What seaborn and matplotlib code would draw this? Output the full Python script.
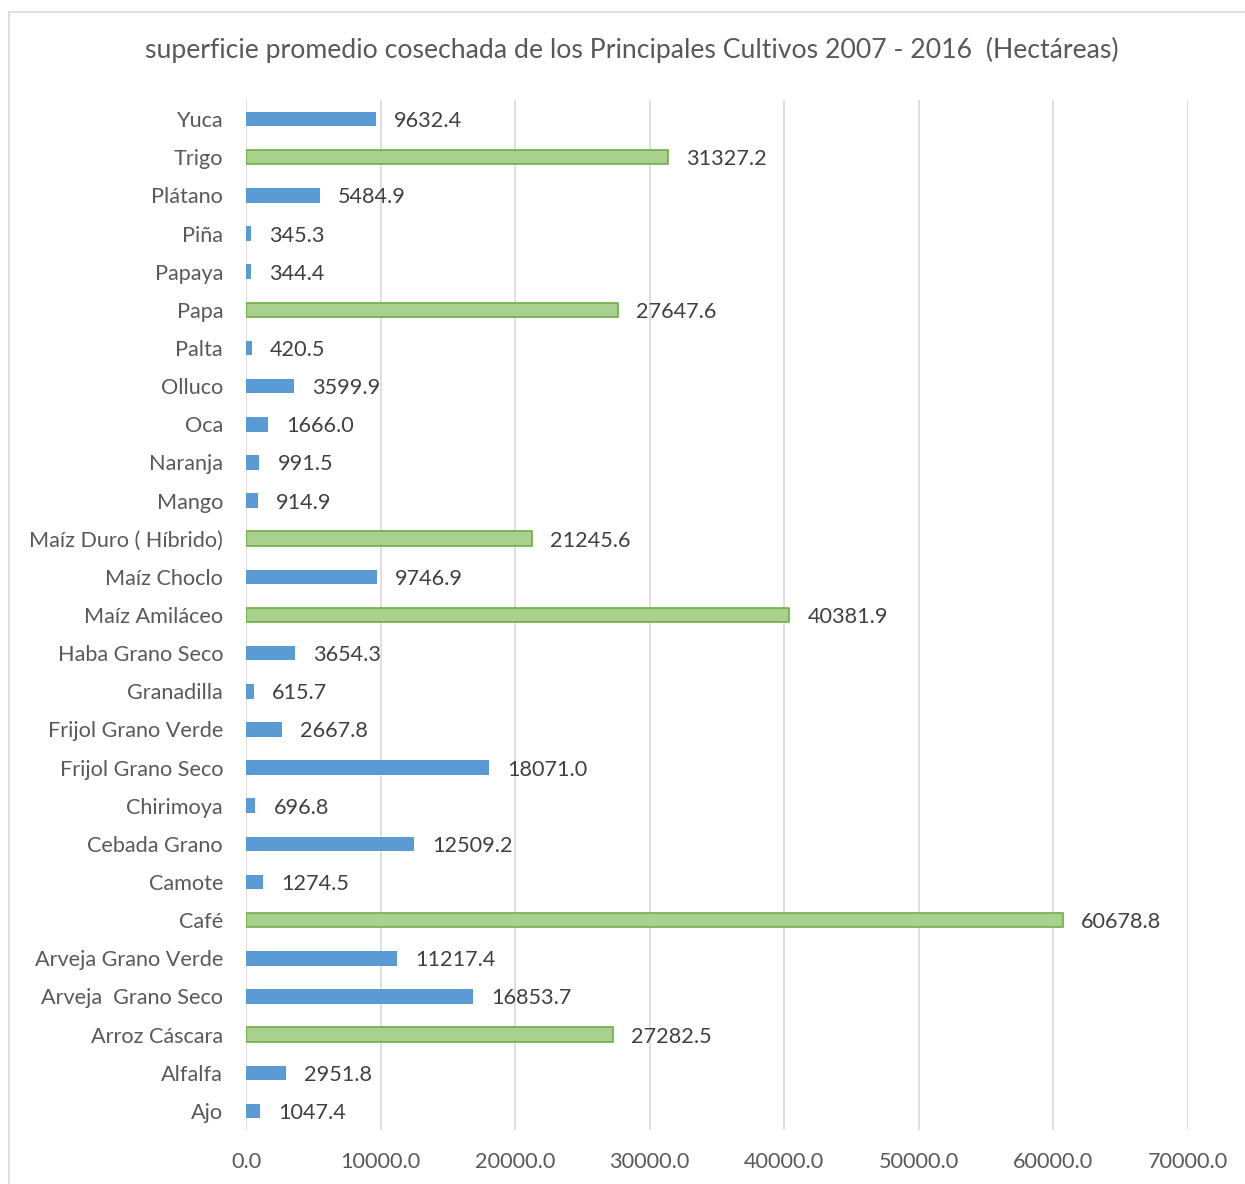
import matplotlib
matplotlib.use("Agg")
import matplotlib.pyplot as plt
import seaborn as sns
import pandas as pd
from matplotlib.lines import Line2D

cultivos = ["Yuca", "Trigo", "Plátano", "Piña", "Papaya", "Papa", "Palta", "Olluco", "Oca",
            "Naranja", "Mango", "Maíz Duro ( Híbrido)", "Maíz Choclo", "Maíz Amiláceo",
            "Haba Grano Seco", "Granadilla", "Frijol Grano Verde", "Frijol Grano Seco",
            "Chirimoya", "Cebada Grano", "Camote", "Café", "Arveja Grano Verde",
            "Arveja  Grano Seco", "Arroz Cáscara", "Alfalfa", "Ajo"]
valores = [9632.4, 31327.2, 5484.9, 345.3, 344.4, 27647.6, 420.5, 3599.9, 1666.0,
           991.5, 914.9, 21245.6, 9746.9, 40381.9, 3654.3, 615.7, 2667.8, 18071.0,
           696.8, 12509.2, 1274.5, 60678.8, 11217.4, 16853.7, 27282.5, 2951.8, 1047.4]
verdes = ["Trigo", "Papa", "Maíz Duro ( Híbrido)", "Maíz Amiláceo", "Café", "Arroz Cáscara"]
grupos = ["verde" if c in verdes else "azul" for c in cultivos]
xticks = [0, 10000, 20000, 30000, 40000, 50000, 60000, 70000]

df = pd.DataFrame({"cultivo": cultivos, "valor": valores, "grupo": grupos})

sns.set_theme(style="white")
plt.rcParams['font.family'] = ['Lato', 'DejaVu Sans']
txt = "#595959"

fig = plt.figure(figsize=(12.45, 11.84), dpi=100)
ax = fig.add_axes([246/1245, 1-1130/1184, (1188-246)/1245, (1130-100)/1184])

sns.barplot(data=df, y="cultivo", x="valor", hue="grupo", hue_order=["azul", "verde"],
            palette={"azul": "#5B9BD5", "verde": "#A9D18E"}, dodge=False, width=0.38,
            legend=False, ax=ax, order=cultivos, saturation=1)

for cont, hue in zip(ax.containers, ["azul", "verde"]):
    for p in cont.patches:
        if hue == "verde":
            p.set_edgecolor("#70AD47")
            p.set_linewidth(1.2)
        else:
            p.set_edgecolor("none")
    labels = ax.bar_label(cont, fmt="%.1f", padding=13, fontsize=15.6, color="#404040")
    for t in labels:
        t.set_va("center_baseline")

ax.set_xlim(0, 70000)
ax.set_ylim(len(cultivos) - 0.5, -0.5)
ax.set_xticks(xticks)
ax.set_xticklabels([f"{v:.1f}" for v in xticks])
ax.grid(axis="x", color="#D9D9D9", linewidth=1.2)
ax.set_axisbelow(True)
for s in ax.spines.values():
    s.set_visible(False)
ax.tick_params(axis="x", length=0, pad=16, labelsize=15.6, labelcolor=txt)
ax.tick_params(axis="y", length=0, pad=16.5, labelsize=15.6, labelcolor=txt)
ax.set_xlabel("")
ax.set_ylabel("")

fig.text(632/1245, 1-50/1184, "superficie promedio cosechada de los Principales Cultivos 2007 - 2016  (Hectáreas)",
         ha="center", va="center", fontsize=19.2, color=txt)

fig.add_artist(Line2D([9/1245, 9/1245], [0, 1-12/1184], color="#D9D9D9", linewidth=1.2, transform=fig.transFigure))
fig.add_artist(Line2D([9/1245, 1], [1-12/1184, 1-12/1184], color="#D9D9D9", linewidth=1.2, transform=fig.transFigure))

fig.savefig("out.png", dpi=100)
